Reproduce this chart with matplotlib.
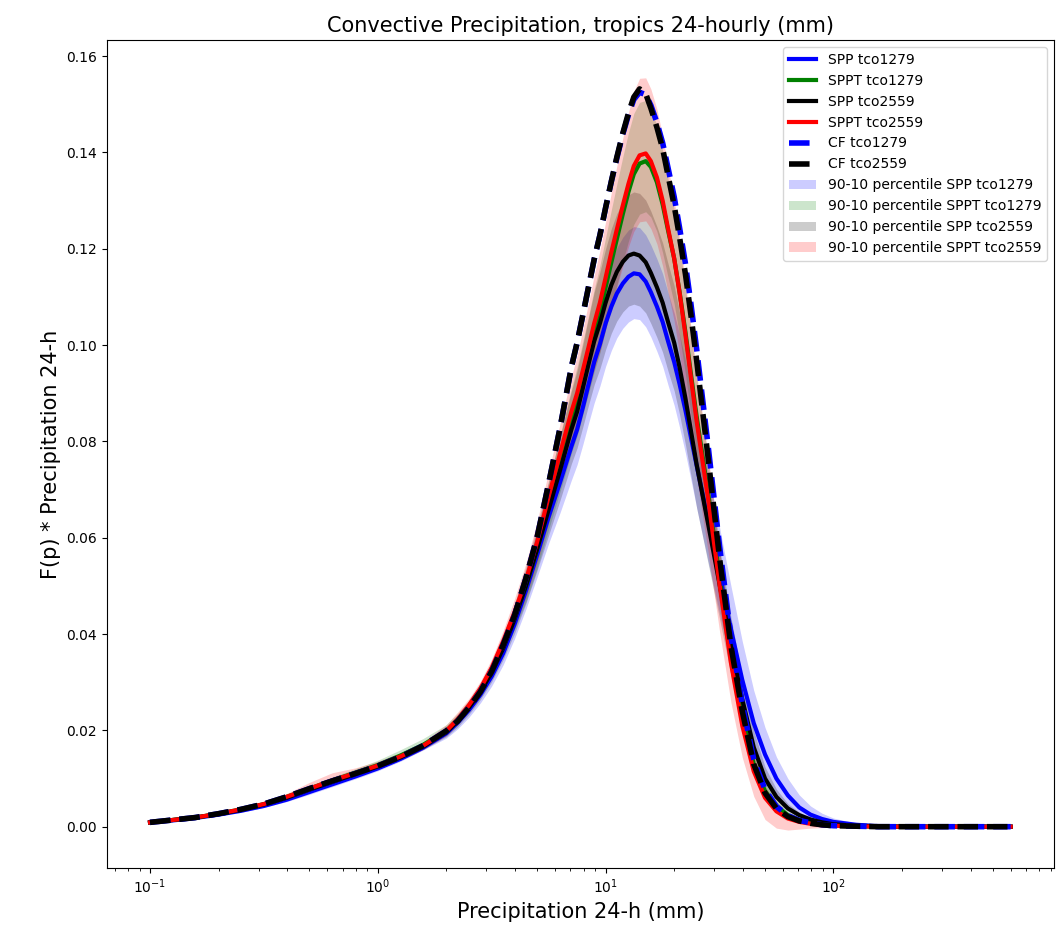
import matplotlib
matplotlib.use("Agg")
import matplotlib.pyplot as plt

# Precipitation bin centres (mm, 24-h accumulation)
precip_mm = [0.100, 0.126, 0.158, 0.200, 0.251, 0.316, 0.398, 0.501, 0.631, 0.794,
             1.00, 1.26, 1.58, 2.00,
             2.24, 2.51, 2.82, 3.16, 3.55, 3.98, 4.47, 5.01, 5.62, 6.31, 7.08,
             7.50, 7.94, 8.41, 8.91, 9.44, 10.0, 10.6, 11.2, 11.9, 12.6, 13.3,
             14.1, 15.0, 15.8, 16.8, 17.8, 18.8, 20.0, 21.1, 22.4, 23.7, 25.1,
             28.2, 31.6, 35.5, 39.8, 44.7, 50.1, 56.2, 63.1, 70.8, 79.4, 89.1, 100,
             126, 158, 200, 251, 316, 398, 501, 600]

# Ensemble-mean F(p) * p for each configuration
spp_1279 = [0.0009, 0.0013, 0.0018, 0.0025, 0.0033, 0.0043, 0.0056, 0.0072, 0.0088, 0.0104,
            0.0121, 0.0141, 0.0164, 0.0194,
            0.0216, 0.0242, 0.0274, 0.0312, 0.0360, 0.0420, 0.0490, 0.0565, 0.0643, 0.0715, 0.0790,
            0.0825, 0.0870, 0.0918, 0.0965, 0.1002, 0.1045, 0.1080, 0.1107, 0.1128, 0.1142, 0.1149,
            0.1147, 0.1132, 0.1110, 0.1080, 0.1048, 0.1008, 0.0965, 0.0920, 0.0865, 0.0808, 0.0750,
            0.0635, 0.0525, 0.0410, 0.0305, 0.0215, 0.0150, 0.0100, 0.0065, 0.0040, 0.0025, 0.0016, 0.0010,
            0.0004, 0.0001, 0.0, 0.0, 0.0, 0.0, 0.0, 0.0]
sppt_1279 = [0.0009, 0.0014, 0.0019, 0.0027, 0.0036, 0.0047, 0.0062, 0.0079, 0.0096, 0.0112,
             0.0128, 0.0148, 0.0170, 0.0199,
             0.0222, 0.0250, 0.0284, 0.0325, 0.0378, 0.0436, 0.0500, 0.0577, 0.0665, 0.0752, 0.0840,
             0.0880, 0.0927, 0.0975, 0.1025, 0.1068, 0.1120, 0.1172, 0.1220, 0.1272, 0.1318, 0.1355,
             0.1377, 0.1382, 0.1370, 0.1338, 0.1292, 0.1238, 0.1180, 0.1112, 0.1028, 0.0940, 0.0852,
             0.0692, 0.0520, 0.0355, 0.0232, 0.0130, 0.0074, 0.0043, 0.0024, 0.0014, 0.0008, 0.0004, 0.0002,
             0.0001, 0.0, 0.0, 0.0, 0.0, 0.0, 0.0, 0.0]
spp_2559 = [0.0009, 0.0014, 0.0019, 0.0026, 0.0035, 0.0046, 0.0060, 0.0077, 0.0093, 0.0109,
            0.0125, 0.0144, 0.0166, 0.0196,
            0.0219, 0.0247, 0.0280, 0.0320, 0.0370, 0.0430, 0.0500, 0.0577, 0.0658, 0.0740, 0.0825,
            0.0862, 0.0910, 0.0960, 0.1008, 0.1045, 0.1088, 0.1125, 0.1152, 0.1173, 0.1186, 0.1190,
            0.1186, 0.1172, 0.1150, 0.1120, 0.1088, 0.1048, 0.1005, 0.0955, 0.0890, 0.0822, 0.0752,
            0.0628, 0.0505, 0.0375, 0.0265, 0.0165, 0.0100, 0.0062, 0.0038, 0.0024, 0.0015, 0.0009, 0.0005,
            0.0002, 0.0001, 0.0, 0.0, 0.0, 0.0, 0.0, 0.0]
sppt_2559 = [0.0009, 0.0014, 0.0019, 0.0027, 0.0036, 0.0047, 0.0062, 0.0079, 0.0096, 0.0111,
             0.0127, 0.0146, 0.0168, 0.0199,
             0.0223, 0.0252, 0.0287, 0.0330, 0.0385, 0.0445, 0.0512, 0.0592, 0.0685, 0.0775, 0.0862,
             0.0900, 0.0947, 0.0995, 0.1045, 0.1088, 0.1140, 0.1193, 0.1240, 0.1290, 0.1335, 0.1372,
             0.1394, 0.1398, 0.1382, 0.1348, 0.1300, 0.1242, 0.1180, 0.1110, 0.1022, 0.0932, 0.0842,
             0.0680, 0.0505, 0.0340, 0.0210, 0.0115, 0.0060, 0.0032, 0.0017, 0.0010, 0.0006, 0.0003, 0.0002,
             0.0001, 0.0, 0.0, 0.0, 0.0, 0.0, 0.0, 0.0]

# Control forecasts
cf_1279 = [0.0009, 0.0014, 0.0019, 0.0027, 0.0036, 0.0047, 0.0062, 0.0079, 0.0095, 0.0110,
           0.0126, 0.0145, 0.0168, 0.0199,
           0.0219, 0.0247, 0.0280, 0.0322, 0.0377, 0.0438, 0.0516, 0.0602, 0.0712, 0.0828, 0.0955,
           0.1005, 0.1062, 0.1120, 0.1178, 0.1228, 0.1285, 0.1340, 0.1388, 0.1438, 0.1478, 0.1510,
           0.1525, 0.1520, 0.1498, 0.1462, 0.1420, 0.1368, 0.1308, 0.1245, 0.1170, 0.1085, 0.0992,
           0.0790, 0.0585, 0.0395, 0.0255, 0.0140, 0.0077, 0.0042, 0.0023, 0.0013, 0.0008, 0.0004, 0.0002,
           0.0001, 0.0, 0.0, 0.0, 0.0, 0.0, 0.0, 0.0]
cf_2559 = [0.0009, 0.0014, 0.0019, 0.0027, 0.0036, 0.0047, 0.0062, 0.0079, 0.0095, 0.0110,
           0.0126, 0.0145, 0.0168, 0.0199,
           0.0219, 0.0247, 0.0280, 0.0322, 0.0377, 0.0438, 0.0516, 0.0602, 0.0712, 0.0828, 0.0955,
           0.1005, 0.1062, 0.1120, 0.1178, 0.1228, 0.1285, 0.1340, 0.1390, 0.1440, 0.1482, 0.1515,
           0.1532, 0.1522, 0.1492, 0.1452, 0.1408, 0.1352, 0.1290, 0.1225, 0.1148, 0.1062, 0.0968,
           0.0765, 0.0560, 0.0375, 0.0240, 0.0130, 0.0070, 0.0038, 0.0021, 0.0012, 0.0007, 0.0004, 0.0002,
           0.0001, 0.0, 0.0, 0.0, 0.0, 0.0, 0.0, 0.0]

# 10th / 90th percentile envelopes across ensemble members
spp_1279_p10 = [0.0008, 0.0012, 0.0016, 0.0023, 0.0030, 0.0040, 0.0052, 0.0067, 0.0083, 0.0099,
                0.0116, 0.0136, 0.0159, 0.0184,
                0.0203, 0.0227, 0.0257, 0.0292, 0.0336, 0.0390, 0.0452, 0.0519, 0.0588, 0.0652, 0.0720,
                0.0752, 0.0793, 0.0837, 0.0880, 0.0915, 0.0956, 0.0989, 0.1015, 0.1035, 0.1048, 0.1055,
                0.1053, 0.1038, 0.1017, 0.0987, 0.0956, 0.0917, 0.0875, 0.0830, 0.0776, 0.0720, 0.0662,
                0.0550, 0.0445, 0.0338, 0.0243, 0.0163, 0.0107, 0.0067, 0.0040, 0.0023, 0.0014, 0.0009, 0.0006,
                0.0002, 0.0, 0.0, 0.0, 0.0, 0.0, 0.0, 0.0]
spp_1279_p90 = [0.0010, 0.0014, 0.0020, 0.0027, 0.0036, 0.0046, 0.0060, 0.0077, 0.0094, 0.0110,
                0.0127, 0.0147, 0.0170, 0.0204,
                0.0230, 0.0258, 0.0292, 0.0333, 0.0386, 0.0452, 0.0530, 0.0614, 0.0701, 0.0781, 0.0863,
                0.0902, 0.0951, 0.1003, 0.1053, 0.1092, 0.1137, 0.1174, 0.1202, 0.1224, 0.1239, 0.1246,
                0.1244, 0.1229, 0.1208, 0.1179, 0.1148, 0.1109, 0.1067, 0.1023, 0.0969, 0.0912, 0.0854,
                0.0737, 0.0623, 0.0500, 0.0385, 0.0283, 0.0206, 0.0145, 0.0100, 0.0066, 0.0043, 0.0028, 0.0018,
                0.0007, 0.0002, 0.0, 0.0, 0.0, 0.0, 0.0, 0.0]
sppt_1279_p10 = [0.0008, 0.0013, 0.0018, 0.0025, 0.0034, 0.0044, 0.0058, 0.0074, 0.0090, 0.0106,
                 0.0122, 0.0141, 0.0162, 0.0190,
                 0.0212, 0.0239, 0.0271, 0.0309, 0.0358, 0.0410, 0.0467, 0.0537, 0.0617, 0.0696, 0.0776,
                 0.0812, 0.0855, 0.0899, 0.0945, 0.0984, 0.1032, 0.1080, 0.1124, 0.1173, 0.1216, 0.1251,
                 0.1272, 0.1277, 0.1266, 0.1236, 0.1192, 0.1141, 0.1086, 0.1021, 0.0940, 0.0855, 0.0772,
                 0.0622, 0.0464, 0.0313, 0.0202, 0.0110, 0.0060, 0.0034, 0.0018, 0.0010, 0.0006, 0.0003, 0.0001,
                 0.0, 0.0, 0.0, 0.0, 0.0, 0.0, 0.0, 0.0]
sppt_1279_p90 = [0.0010, 0.0015, 0.0020, 0.0029, 0.0039, 0.0051, 0.0067, 0.0085, 0.0103, 0.0120,
                 0.0138, 0.0160, 0.0183, 0.0212,
                 0.0235, 0.0262, 0.0297, 0.0341, 0.0398, 0.0462, 0.0533, 0.0618, 0.0715, 0.0812, 0.0910,
                 0.0955, 0.1007, 0.1060, 0.1116, 0.1165, 0.1223, 0.1281, 0.1334, 0.1391, 0.1441, 0.1481,
                 0.1504, 0.1508, 0.1492, 0.1455, 0.1404, 0.1345, 0.1282, 0.1209, 0.1120, 0.1027, 0.0934,
                 0.0764, 0.0580, 0.0401, 0.0266, 0.0154, 0.0090, 0.0053, 0.0030, 0.0018, 0.0010, 0.0006, 0.0003,
                 0.0001, 0.0, 0.0, 0.0, 0.0, 0.0, 0.0, 0.0]
spp_2559_p10 = [0.0008, 0.0013, 0.0017, 0.0024, 0.0032, 0.0042, 0.0055, 0.0071, 0.0087, 0.0103,
                0.0119, 0.0138, 0.0160, 0.0187,
                0.0207, 0.0233, 0.0264, 0.0301, 0.0347, 0.0401, 0.0464, 0.0533, 0.0605, 0.0678, 0.0754,
                0.0787, 0.0830, 0.0875, 0.0918, 0.0951, 0.0991, 0.1025, 0.1050, 0.1069, 0.1081, 0.1085,
                0.1081, 0.1067, 0.1045, 0.1016, 0.0985, 0.0946, 0.0905, 0.0857, 0.0794, 0.0729, 0.0662,
                0.0546, 0.0433, 0.0315, 0.0217, 0.0129, 0.0075, 0.0046, 0.0028, 0.0018, 0.0011, 0.0006, 0.0003,
                0.0001, 0.0, 0.0, 0.0, 0.0, 0.0, 0.0, 0.0]
spp_2559_p90 = [0.0010, 0.0015, 0.0021, 0.0028, 0.0038, 0.0050, 0.0065, 0.0083, 0.0100, 0.0116,
                0.0132, 0.0151, 0.0173, 0.0207,
                0.0232, 0.0262, 0.0298, 0.0341, 0.0396, 0.0462, 0.0540, 0.0627, 0.0718, 0.0810, 0.0905,
                0.0947, 0.1000, 0.1056, 0.1110, 0.1152, 0.1200, 0.1242, 0.1273, 0.1297, 0.1312, 0.1318,
                0.1315, 0.1301, 0.1278, 0.1246, 0.1212, 0.1169, 0.1123, 0.1069, 0.1000, 0.0927, 0.0852,
                0.0716, 0.0579, 0.0435, 0.0311, 0.0199, 0.0124, 0.0078, 0.0048, 0.0030, 0.0019, 0.0012, 0.0007,
                0.0002, 0.0, 0.0, 0.0, 0.0, 0.0, 0.0, 0.0]
sppt_2559_p10 = [0.0008, 0.0012, 0.0017, 0.0024, 0.0033, 0.0043, 0.0057, 0.0073, 0.0088, 0.0104,
                 0.0120, 0.0139, 0.0160, 0.0189,
                 0.0212, 0.0240, 0.0272, 0.0312, 0.0362, 0.0415, 0.0475, 0.0547, 0.0630, 0.0710, 0.0787,
                 0.0820, 0.0862, 0.0905, 0.0949, 0.0986, 0.1032, 0.1079, 0.1120, 0.1164, 0.1204, 0.1236,
                 0.1256, 0.1258, 0.1242, 0.1210, 0.1164, 0.1109, 0.1050, 0.0983, 0.0898, 0.0811, 0.0724,
                 0.0570, 0.0407, 0.0258, 0.0144, 0.0063, 0.0015, -0.0003, -0.0007, -0.0005, -0.0003, -0.0002, -0.0001,
                 0.0, 0.0, 0.0, 0.0, 0.0, 0.0, 0.0, 0.0]
sppt_2559_p90 = [0.0010, 0.0015, 0.0021, 0.0029, 0.0039, 0.0051, 0.0069, 0.0092, 0.0112, 0.0122,
                 0.0136, 0.0154, 0.0176, 0.0212,
                 0.0238, 0.0266, 0.0302, 0.0348, 0.0407, 0.0473, 0.0547, 0.0635, 0.0737, 0.0837, 0.0935,
                 0.0978, 0.1032, 0.1087, 0.1145, 0.1196, 0.1256, 0.1317, 0.1372, 0.1430, 0.1483, 0.1527,
                 0.1554, 0.1555, 0.1532, 0.1490, 0.1434, 0.1370, 0.1302, 0.1226, 0.1132, 0.1037, 0.0942,
                 0.0770, 0.0580, 0.0400, 0.0258, 0.0150, 0.0085, 0.0048, 0.0027, 0.0016, 0.0010, 0.0005, 0.0003,
                 0.0001, 0.0, 0.0, 0.0, 0.0, 0.0, 0.0, 0.0]

fig = plt.figure(figsize=(10.59, 9.35), dpi=100)
ax = fig.add_axes([0.101, 0.072, 0.894, 0.885])

# ensemble means and control forecasts
ax.plot(precip_mm, spp_1279, color="blue", lw=3, label="SPP tco1279", zorder=3)
ax.plot(precip_mm, sppt_1279, color="green", lw=3, label="SPPT tco1279", zorder=3)
ax.plot(precip_mm, spp_2559, color="black", lw=3, label="SPP tco2559", zorder=3)
ax.plot(precip_mm, sppt_2559, color="red", lw=3, label="SPPT tco2559", zorder=3)
ax.plot(precip_mm, cf_1279, color="blue", lw=4, ls="--", label="CF tco1279", zorder=4)
ax.plot(precip_mm, cf_2559, color="black", lw=4, ls="--", label="CF tco2559", zorder=4)

# shaded percentile envelopes, kept beneath the curves
ax.fill_between(precip_mm, spp_1279_p10, spp_1279_p90, color="blue", alpha=0.2,
                linewidth=0, label="90-10 percentile SPP tco1279", zorder=1)
ax.fill_between(precip_mm, sppt_1279_p10, sppt_1279_p90, color="green", alpha=0.2,
                linewidth=0, label="90-10 percentile SPPT tco1279", zorder=1)
ax.fill_between(precip_mm, spp_2559_p10, spp_2559_p90, color="black", alpha=0.2,
                linewidth=0, label="90-10 percentile SPP tco2559", zorder=1)
ax.fill_between(precip_mm, sppt_2559_p10, sppt_2559_p90, color="red", alpha=0.2,
                linewidth=0, label="90-10 percentile SPPT tco2559", zorder=1)

ax.set_xscale("log")
ax.set_title("Convective Precipitation, tropics 24-hourly (mm)", fontsize=15)
ax.set_xlabel("Precipitation 24-h (mm)", fontsize=15)
ax.set_ylabel("F(p) * Precipitation 24-h", fontsize=15)
ax.tick_params(labelsize=10)
ax.legend(loc="upper right", fontsize=10)

fig.savefig("out.png", dpi=100)
